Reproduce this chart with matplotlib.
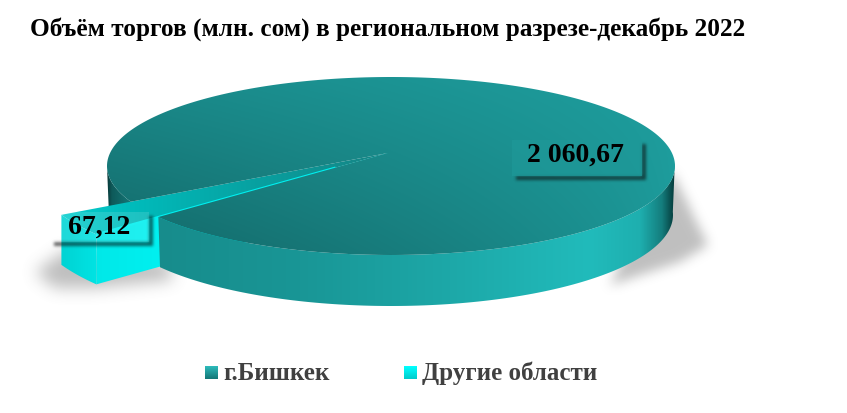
import numpy as np
import matplotlib
matplotlib.use('Agg')
import matplotlib.pyplot as plt
from matplotlib.patches import Polygon
from matplotlib.path import Path

plt.rcParams['font.family'] = ['Liberation Serif', 'DejaVu Serif']

# данные
title = 'Объём торгов (млн. сом) в региональном разрезе-декабрь 2022'
categories = ['г.Бишкек', 'Другие области']
values = [2060.67, 67.12]
value_labels = ['2 060,67', '67,12']

W, H = 847, 413
fig = plt.figure(figsize=(W / 100, H / 100), dpi=100)
ax = fig.add_axes([0, 0, 1, 1])
ax.axis('off')

# геометрия псевдо-3D круга (в пикселях картинки)
cx, cy, rx, ry = 391, 166, 284, 89
bx, by, brx, bry = 391, 215, 282, 91
apex = np.array([388.0, 153.0])
start = 145.0
span = 360 * values[1] / sum(values)
end = start + span
explode = 1.27
depth = 50


def top_pts(t):
    t = np.radians(t)
    return np.column_stack([cx + rx * np.cos(t), cy + ry * np.sin(t)])


def bottom_pts(t):
    t = np.radians(t)
    return np.column_stack([bx + brx * np.cos(t), by + bry * np.sin(t)])


def fill_grad(poly, rgb, z):
    # градиент, обрезанный по многоугольнику
    im = ax.imshow(np.clip(rgb, 0, 255).astype(np.uint8), extent=[0, W, H, 0], aspect='auto',
                   interpolation='bilinear', zorder=z)
    patch = Polygon(poly, closed=True, transform=ax.transData, fc='none', ec='none')
    ax.add_patch(patch)
    im.set_clip_path(patch)


def x_grad(stops):
    xs = np.arange(W) + 0.5
    xp, cols = zip(*stops)
    cols = np.array(cols, dtype=float)
    row = np.column_stack([np.interp(xs, xp, cols[:, i]) for i in range(3)])
    return np.repeat(row[None, :, :], H, axis=0)


def blur(a, r):
    k = np.ones(2 * r + 1) / (2 * r + 1)
    for _ in range(3):
        a = np.apply_along_axis(lambda v: np.convolve(v, k, mode='same'), 0, a)
        a = np.apply_along_axis(lambda v: np.convolve(v, k, mode='same'), 1, a)
    return a


def soft_shadow(poly, r, color, alpha, z):
    yy, xx = np.mgrid[0:H, 0:W]
    pts = np.column_stack([xx.ravel() + 0.5, yy.ravel() + 0.5])
    mask = Path(poly).contains_points(pts).reshape(H, W).astype(float)
    mask = blur(mask, r)
    rgba = np.zeros((H, W, 4))
    rgba[..., :3] = color
    rgba[..., 3] = mask * alpha
    ax.imshow(rgba, extent=[0, W, H, 0], aspect='auto', zorder=z)


# тени на фоне
soft_shadow([(672, 172), (708, 245), (680, 262), (610, 285), (640, 225)], 5, 0.55, 0.55, 1)
soft_shadow([(35, 272), (66, 250), (170, 262), (172, 280), (94, 288), (55, 288)], 7, 0.5, 0.5, 1)

# задняя боковая стенка слева
t_back = np.linspace(end, 180, 30)
back = np.vstack([top_pts(t_back), bottom_pts(t_back[::-1])])
fill_grad(back, x_grad([(105, (5, 40, 40)), (112, (14, 90, 90)), (135, (22, 125, 125))]), 2)

# выдвинутый сектор
t_s = np.linspace(start, end, 12)
outer = apex + (top_pts(t_s) - apex) * explode
outer_low = outer + [0, depth]
A, B = outer[-1], outer[0]
fill_grad(np.vstack([outer, outer_low[::-1]]), x_grad([(64, (0, 212, 212)), (94, (0, 226, 226))]), 3)
fill_grad(np.array([B, B + [0, depth], apex + [0, depth], apex]),
          x_grad([(94, (0, 232, 232)), (160, (0, 240, 240))]), 3)
fill_grad(np.vstack([apex, outer]),
          x_grad([(64, (8, 205, 205)), (130, (0, 188, 188)), (260, (8, 160, 160)), (388, (24, 130, 130))]), 4)
# яркая кромка сектора
ax.plot([B[0], apex[0] + (B[0] - apex[0]) * 0.18], [B[1], apex[1] + (B[1] - apex[1]) * 0.18],
        color='#00f0f0', lw=1.6, zorder=4.5, solid_capstyle='butt')

# передняя боковая стенка большого сектора
t_f = np.linspace(-2, start, 120)
front = np.vstack([top_pts(t_f), bottom_pts(t_f[::-1])])
fill_grad(front, x_grad([(158, (23, 140, 140)), (300, (25, 150, 150)), (450, (29, 168, 168)),
                         (590, (33, 187, 187)), (640, (30, 175, 175)), (662, (20, 125, 125)),
                         (674, (5, 60, 60))]), 5)

# верх большого сектора
yy, xx = np.mgrid[0:H, 0:W]
u = (xx - 107) / 568.0
v = (yy - 77) / 178.0
shade = 0.93 - 0.12 * np.clip(1 - u, 0, 1) - 0.20 * np.clip(v, 0, 1) * np.clip(1 - u, 0, 1) ** 0.5
top_rgb = np.dstack([32 * shade, 170 * shade, 170 * shade])
t_top = np.linspace(end, start + 360, 300)
fill_grad(np.vstack([apex, top_pts(t_top)]), top_rgb, 6)

# подписи значений
boxes = [(512, 140, 130, 36), (50, 212, 99, 30)]
box_fill = [((30 / 255, 152 / 255, 152 / 255), 0.75), ('white', 0.12)]
text_xy = [(575.5, 155.5), (99.5, 227)]
for i, (x0, y0, w, h) in enumerate(boxes):
    rect = [(x0, y0), (x0 + w, y0), (x0 + w, y0 + h), (x0, y0 + h)]
    # тень только снаружи рамки
    s = [(x0 + w, y0 + 4), (x0 + w + 4, y0 + 4), (x0 + w + 4, y0 + h + 4),
         (x0 + 4, y0 + h + 4), (x0 + 4, y0 + h), (x0 + w, y0 + h)]
    soft_shadow(s, 1, 0.05, 0.6, 7 + i * 0.01)
    ax.add_patch(Polygon(rect, closed=True, fc=box_fill[i][0], alpha=box_fill[i][1], ec='none', zorder=7.5))
    ax.text(*text_xy[i], value_labels[i], fontsize=20, fontweight='bold', color='black',
            ha='center', va='center', zorder=8)

# заголовок
ax.text(30, 29, title, fontsize=18.2, fontweight='bold', color='black', ha='left', va='center', zorder=9)

# легенда
swatch_x = [205, 404]
label_x = [223, 422]
swatch_cols = [((45, 185, 185), (20, 120, 120)), ((0, 255, 255), (0, 205, 205))]
for i, name in enumerate(categories):
    x0 = swatch_x[i]
    c1, c2 = np.array(swatch_cols[i], dtype=float)
    g = np.linspace(0, 1, 13)[:, None, None]
    grid = (c1[None, None, :] * (1 - g) + c2[None, None, :] * g)
    grid = np.repeat(grid, 13, axis=1).astype(np.uint8)
    ax.imshow(grid, extent=[x0, x0 + 13, 379, 366], aspect='auto', zorder=9)
    ax.text(label_x[i], 373, name, fontsize=18, fontweight='bold', color='#404040',
            ha='left', va='center', zorder=9)

ax.set_xlim(0, W)
ax.set_ylim(H, 0)
fig.savefig('out.png', dpi=100, facecolor='white')
